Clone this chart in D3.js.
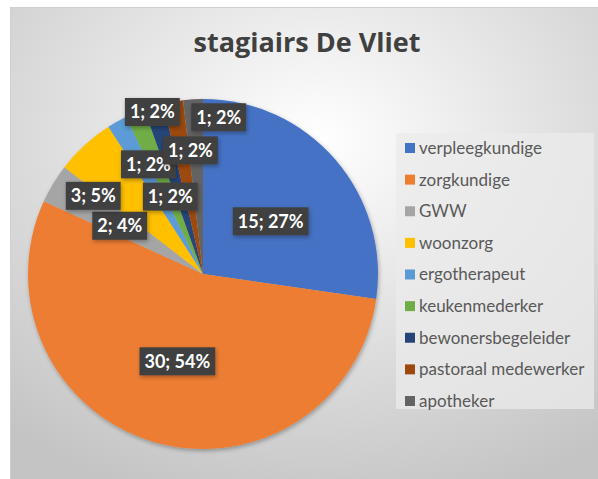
<!DOCTYPE html>
<html>
<head>
<meta charset="utf-8">
<script src="https://cdn.jsdelivr.net/npm/d3@7"></script>
<style>
  body { margin: 0; background: #fff; }
  svg { display: block; font-family: Lato, "Open Sans", sans-serif; }
</style>
</head>
<body>
<svg id="chart" width="598" height="479"></svg>
<script>
const categories = ['verpleegkundige', 'zorgkundige', 'GWW', 'woonzorg', 'ergotherapeut',
    'keukenmederker', 'bewonersbegeleider', 'pastoraal medewerker', 'apotheker'];
const values = [15, 30, 2, 3, 1, 1, 1, 1, 1];
const percentLabels = ['27%', '54%', '4%', '5%', '2%', '2%', '2%', '2%', '2%'];
const colors = ['#4472C4', '#ED7D31', '#A5A5A5', '#FFC000', '#5B9BD5',
    '#70AD47', '#264478', '#9E480E', '#636363'];

// best-fit label placement: [fraction of radius, angle shift in degrees]
const labelPlacement = [[0.49, 3], [0.52, 0], [0.55, -1], [0.77, -12], [0.70, 3],
    [0.48, 0], [0.97, -1], [0.71, 4], [0.90, 9]];

const width = 598, height = 479;
const cx = 203, cy = 274, radius = 175;

const svg = d3.select('#chart');
const defs = svg.append('defs');

// chart area background
const grad = defs.append('radialGradient')
    .attr('id', 'bg').attr('cx', '52%').attr('cy', '28%').attr('r', '80%');
grad.append('stop').attr('offset', '0%').attr('stop-color', '#ffffff');
grad.append('stop').attr('offset', '100%').attr('stop-color', '#c4c4c4');

const shadow = defs.append('filter').attr('id', 'shadow')
    .attr('x', '-20%').attr('y', '-20%').attr('width', '140%').attr('height', '140%');
shadow.append('feDropShadow').attr('dx', 1).attr('dy', 2).attr('stdDeviation', 2)
    .attr('flood-color', '#000').attr('flood-opacity', 0.3);

svg.append('rect')
    .attr('x', 10.5).attr('y', 7.5)
    .attr('width', width - 10).attr('height', height - 7)
    .attr('fill', 'url(#bg)')
    .attr('stroke', '#d0d0d0');

// Title
svg.append('text')
    .attr('x', 307).attr('y', 52)
    .attr('text-anchor', 'middle')
    .style('font-family', '"Open Sans", sans-serif')
    .style('font-size', '27px')
    .style('font-weight', 700)
    .attr('fill', '#404040')
    .text('stagiairs De Vliet');

const color = d3.scaleOrdinal().domain(categories).range(colors);

const data = categories.map((c, i) => ({ name: c, value: values[i], pct: percentLabels[i], place: labelPlacement[i] }));

const pie = d3.pie().value(d => d.value).sort(null);
const arc = d3.arc().innerRadius(0).outerRadius(radius);
const arcs = pie(data);

const g = svg.append('g').attr('transform', `translate(${cx},${cy})`);

g.append('g')
    .attr('filter', 'url(#shadow)')
    .selectAll('path')
    .data(arcs)
    .join('path')
    .attr('d', arc)
    .attr('fill', d => color(d.data.name));

// Data labels
const labels = g.selectAll('.label')
    .data(arcs)
    .join('g')
    .attr('class', 'label')
    .attr('transform', d => {
        const a = (d.startAngle + d.endAngle) / 2 + d.data.place[1] * Math.PI / 180;
        const r = d.data.place[0] * radius;
        return `translate(${r * Math.sin(a)},${-r * Math.cos(a)})`;
    });

labels.each(function (d) {
    const lg = d3.select(this);
    const rect = lg.append('rect').attr('fill', '#404040').attr('filter', 'url(#shadow)');
    const t = lg.append('text')
        .attr('text-anchor', 'middle')
        .attr('dy', '0.35em')
        .attr('font-size', 18)
        .attr('font-weight', 700)
        .attr('fill', '#ffffff')
        .text(`${d.data.value}; ${d.data.pct}`);
    const w = t.node().getComputedTextLength() + 10;
    const h = 28;
    rect.attr('x', -w / 2).attr('y', -h / 2).attr('width', w).attr('height', h);
});

// Legend
const legendY = d3.scalePoint().domain(categories).range([148, 401]);

svg.append('rect')
    .attr('x', 396).attr('y', 133)
    .attr('width', 198).attr('height', 276)
    .attr('fill', '#ebebeb').attr('fill-opacity', 0.75);

const legend = svg.append('g')
    .selectAll('g')
    .data(categories)
    .join('g')
    .attr('transform', d => `translate(405,${legendY(d)})`);

legend.append('rect')
    .attr('x', 0).attr('y', -5)
    .attr('width', 10).attr('height', 10)
    .attr('fill', d => color(d));

legend.append('text')
    .attr('x', 14).attr('dy', '0.35em')
    .attr('font-size', 17)
    .attr('fill', '#595959')
    .text(d => d);
</script>
</body>
</html>
